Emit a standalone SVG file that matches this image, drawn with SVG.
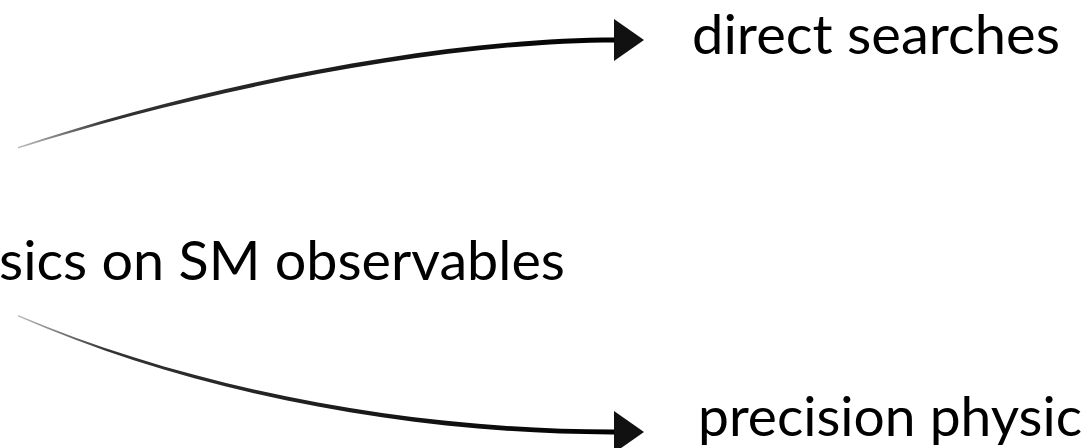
<svg xmlns="http://www.w3.org/2000/svg" xmlns:xlink="http://www.w3.org/1999/xlink" width="1086" height="448" viewBox="0 0 1086 448">
  <style>
    .lbl { font-family: "Lato", "Open Sans", "Liberation Sans", sans-serif; font-size: 55px; fill: #000; }
    .stroke { fill: url(#ink); }
    .head { fill: #111; }
  </style>
  <defs>
    <linearGradient id="ink" x1="0" y1="0" x2="1" y2="0">
      <stop offset="0" stop-color="#bbb"/>
      <stop offset="0.15" stop-color="#333"/>
      <stop offset="1" stop-color="#000"/>
    </linearGradient>
    <path id="ah" d="M0,-21 L30,0 L0,21 Z"/>
  </defs>
  <rect width="1086" height="448" fill="#fff"/>
  <g id="connectors">
    <path class="stroke" d="M18,147 C200,86 440,37.5 616,37.6 L616,42.4 C440,42.4 200,91 18,148.5 Z"/>
    <use href="#ah" class="head" x="614" y="40"/>
    <path class="stroke" d="M18,315 C200,392 420,430 616,429.6 L616,434.4 C420,435 200,396 18,316.5 Z"/>
    <use href="#ah" class="head" x="614" y="432"/>
  </g>
  <g id="node-direct">
    <text class="lbl" x="692" y="54" textLength="368" lengthAdjust="spacingAndGlyphs">direct searches</text>
  </g>
  <g id="node-middle">
    <text class="lbl" x="-1" y="280" textLength="566" lengthAdjust="spacingAndGlyphs">sics on SM observables</text>
  </g>
  <g id="node-precision">
    <text class="lbl" x="698" y="436" textLength="384" lengthAdjust="spacingAndGlyphs">precision physic</text>
  </g>
</svg>
